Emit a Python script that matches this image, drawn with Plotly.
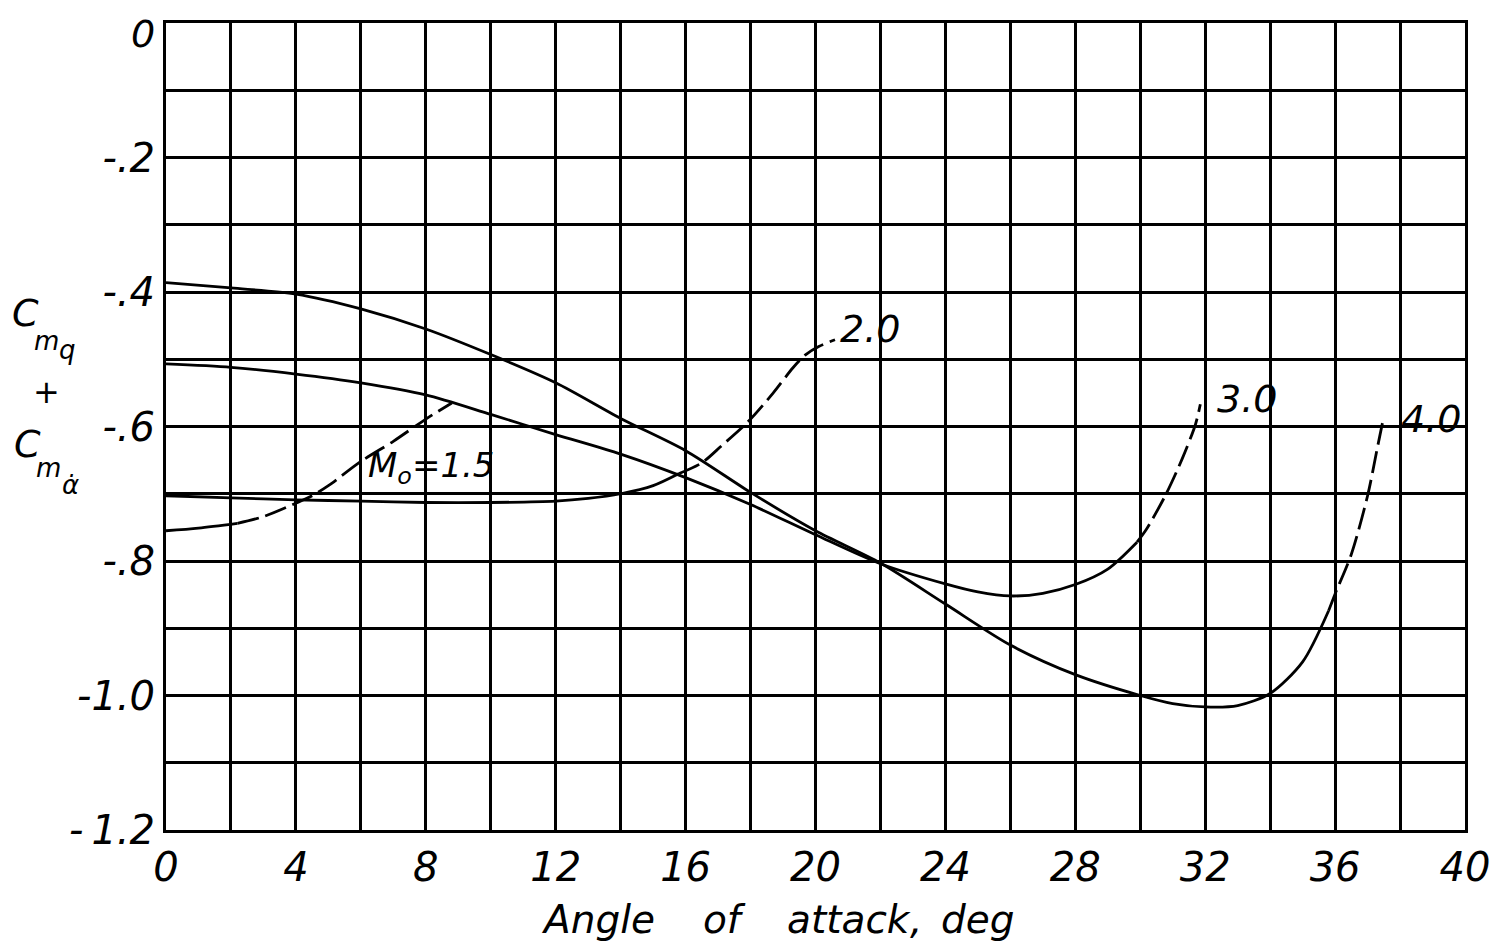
import plotly.graph_objects as go

# ---- data ----
m15_solid_x = [0, 1, 2.2]
m15_solid_y = [-0.755, -0.751, -0.744]
m15_dash_x = [2.2, 3, 4, 4.5, 5, 6, 7, 8, 8.8]
m15_dash_y = [-0.744, -0.734, -0.714, -0.703, -0.688, -0.652, -0.622, -0.589, -0.565]

m20_solid_x = [0, 2, 4, 6, 8, 10, 12, 13, 14, 15, 15.8]
m20_solid_y = [-0.703, -0.706, -0.709, -0.711, -0.713, -0.713, -0.711, -0.707, -0.700, -0.688, -0.670]
m20_dash_x = [15.8, 16.5, 17.1, 17.9, 18.7, 19.3, 19.7, 20.1, 20.6]
m20_dash_y = [-0.670, -0.654, -0.629, -0.594, -0.550, -0.513, -0.493, -0.481, -0.471]

m30_solid_x = [0, 2, 4, 6, 8, 10, 12, 14, 16, 18, 20, 22, 24, 25, 26, 27, 28, 29, 29.9]
m30_solid_y = [-0.507, -0.512, -0.522, -0.535, -0.553, -0.582, -0.612, -0.641, -0.676, -0.716,
               -0.761, -0.804, -0.834, -0.846, -0.852, -0.848, -0.835, -0.812, -0.772]
m30_dash_x = [29.9, 30.2, 30.8, 31.3, 31.7, 31.85]
m30_dash_y = [-0.772, -0.752, -0.700, -0.647, -0.597, -0.567]

m40_solid_x = [0, 2, 4, 6, 8, 10, 12, 14, 16, 18, 20, 22, 24, 26, 28, 30, 31, 32, 33, 34, 35, 35.8]
m40_solid_y = [-0.386, -0.394, -0.403, -0.425, -0.455, -0.493, -0.535, -0.588, -0.636, -0.698,
               -0.755, -0.803, -0.864, -0.925, -0.969, -1.000, -1.012, -1.017, -1.015, -0.997,
               -0.950, -0.874]
m40_dash_x = [35.8, 36, 36.5, 37, 37.3, 37.5]
m40_dash_y = [-0.874, -0.849, -0.790, -0.703, -0.632, -0.585]

x_tickvals = [0, 4, 8, 12, 16, 20, 24, 28, 32, 36, 40]
x_ticktext = ["0", "4", "8", "12", "16", "20", "24", "28", "32", "36", "40"]
x_minorvals = [2, 6, 10, 14, 18, 22, 26, 30, 34, 38]
y_tickvals = [-0.2, -0.4, -0.6, -0.8, -1.0, -1.2]
y_ticktext = ["-.2", "-.4", "-.6", "-.8", "-1.0", "-\u20091.2"]
y_minorvals = [-0.1, -0.3, -0.5, -0.7, -0.9, -1.1]
y_top_label = "0"
x_title_words = ["Angle", "of", "attack", ",", "deg"]
x_title_centers = [598, 724, 849, 916, 978]

FONT = "DejaVu Sans"
LW = 2.8
DASH = "22px,7px"

fig = go.Figure()
for xs, ys, dash in [
    (m15_solid_x, m15_solid_y, "solid"), (m15_dash_x, m15_dash_y, DASH),
    (m20_solid_x, m20_solid_y, "solid"), (m20_dash_x, m20_dash_y, DASH),
    (m30_solid_x, m30_solid_y, "solid"), (m30_dash_x, m30_dash_y, DASH),
    (m40_solid_x, m40_solid_y, "solid"), (m40_dash_x, m40_dash_y, DASH),
]:
    fig.add_trace(go.Scatter(x=xs, y=ys, mode="lines",
                             line=dict(color="black", width=LW, dash=dash, shape="spline", smoothing=0.8),
                             showlegend=False, hoverinfo="skip"))

# page offset (body margin) compensation
OFF = 8
W, H = 1502, 943
L, R, T, B = 166 - OFF, 1465 - OFF, 21 - OFF, 830 - OFF

def px(x):
    return (x - OFF - L) / (R - L)
def py(y):
    return (B - (y - OFF)) / (B - T)

def ann(text, x, y, size, xanchor="center", yanchor="middle"):
    fig.add_annotation(text=text, x=px(x), y=py(y), xref="paper", yref="paper",
                       xanchor=xanchor, yanchor=yanchor, showarrow=False,
                       font=dict(family=FONT, size=size, color="black", style="italic"))

# curve labels (page pixel positions)
ann("M<sub>o</sub>=1.5", 366, 467, 34, "left")
ann("2.0", 870, 328, 38)
ann("3.0", 1247, 398, 38)
ann("4.0", 1431, 418, 38)

# top y tick label
ann(y_top_label, 157, 8, 38, "right", "top")

# y-axis title (stacked)
ann("C", 25, 312, 38)
ann("m", 46, 340, 26)
ann("q", 67, 349, 26)
ann("+", 46, 391, 32)
ann("C", 27, 443, 38)
ann("m", 49, 467, 26)
ann("\u03b1\u0307", 70, 484, 26)

# x-axis title, word by word
for word, cx in zip(x_title_words, x_title_centers):
    ann(word, cx, 920, 39)

fig.update_layout(
    width=W, height=H,
    margin=dict(l=L, r=W - R, t=T, b=H - B),
    paper_bgcolor="white", plot_bgcolor="white",
    font=dict(family=FONT, color="black", size=40, style="italic"),
)
fig.update_xaxes(range=[0, 40], tickmode="array", tickvals=x_tickvals, ticktext=x_ticktext,
                 showgrid=True, gridcolor="black", gridwidth=2.9,
                 minor=dict(tickmode="array", tickvals=x_minorvals, showgrid=True,
                            gridcolor="black", gridwidth=2.9, ticks=""),
                 showline=True, linecolor="black", linewidth=3, mirror=True,
                 ticks="", zeroline=False, ticklabelstandoff=0,
                 tickfont=dict(family=FONT, size=40, style="italic", color="black"))
fig.update_yaxes(range=[-1.2, 0], tickmode="array", tickvals=y_tickvals, ticktext=y_ticktext,
                 showgrid=True, gridcolor="black", gridwidth=2.9,
                 minor=dict(tickmode="array", tickvals=y_minorvals, showgrid=True,
                            gridcolor="black", gridwidth=2.9, ticks=""),
                 showline=True, linecolor="black", linewidth=3, mirror=True,
                 ticks="", zeroline=False, ticklabelstandoff=0,
                 tickfont=dict(family=FONT, size=40, style="italic", color="black"))

fig.write_html("out.html")
